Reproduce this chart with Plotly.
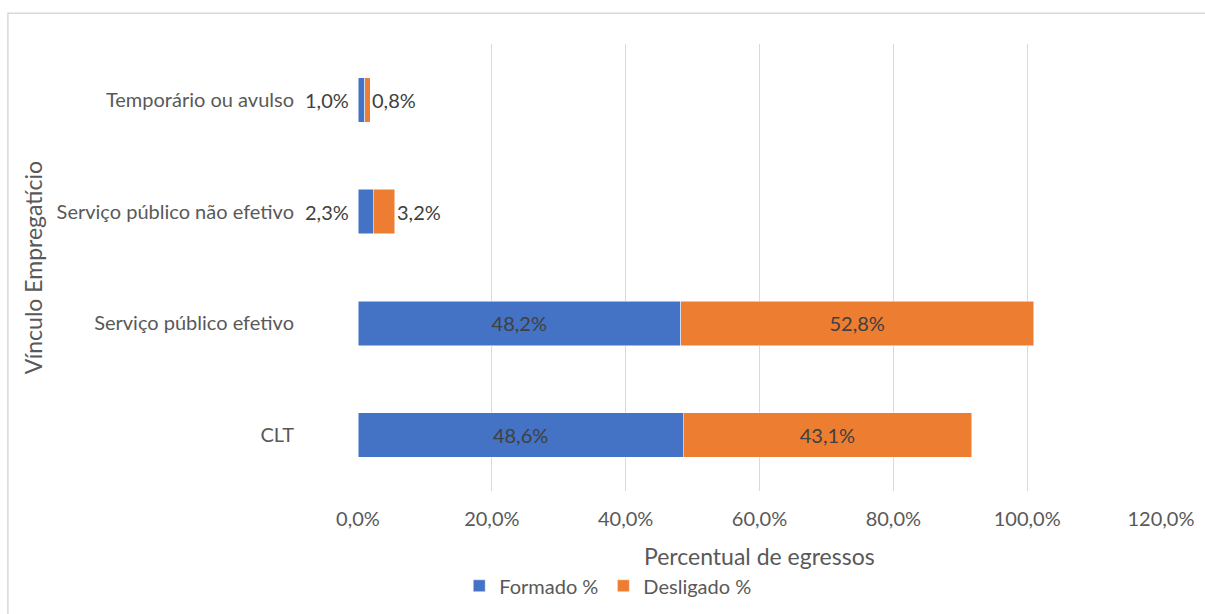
import plotly.graph_objects as go

# Employment relationship categories (bottom to top)
categorias = ["CLT", "Serviço público efetivo", "Serviço público não efetivo", "Temporário ou avulso"]
formado = [48.6, 48.2, 2.3, 1.0]
desligado = [43.1, 52.8, 3.2, 0.8]
x_ticks = [0, 20, 40, 60, 80, 100, 120]

AZUL = "#4472C4"
LARANJA = "#ED7D31"
TEXTO = "#595959"
ROTULO = "#404040"
FONTE = "Lato, 'Open Sans', sans-serif"
TAM = 20

def fmt(v):
    return f"{v:.1f}%".replace(".", ",")

# Values too small to hold a label inside the bar get their labels outside
LIMIAR = 10

fig = go.Figure()
fig.add_trace(go.Bar(
    y=categorias, x=formado, name="Formado %", orientation="h",
    marker=dict(color=AZUL, line=dict(color="white", width=0.5)),
    text=[fmt(v) if v >= LIMIAR else "" for v in formado],
    textposition="inside", insidetextanchor="middle",
    textfont=dict(color=ROTULO, size=TAM, family=FONTE),
))
fig.add_trace(go.Bar(
    y=categorias, x=desligado, name="Desligado %", orientation="h",
    marker=dict(color=LARANJA, line=dict(color="white", width=0.5)),
    text=[fmt(v) if v >= LIMIAR else "" for v in desligado],
    textposition="inside", insidetextanchor="middle",
    textfont=dict(color=ROTULO, size=TAM, family=FONTE),
))

anots = []
for cat, f, d in zip(categorias, formado, desligado):
    if f < LIMIAR:
        anots.append(dict(x=0, y=cat, xref="x", yref="y", text=fmt(f), showarrow=False,
                          xanchor="right", xshift=-7, font=dict(color=ROTULO, size=TAM, family=FONTE)))
    if d < LIMIAR:
        anots.append(dict(x=f + d, y=cat, xref="x", yref="y", text=fmt(d), showarrow=False,
                          xanchor="left", xshift=0, font=dict(color=ROTULO, size=TAM, family=FONTE)))

# Axis titles
anots.append(dict(x=0.5, y=-0.145, xref="paper", yref="paper", text="Percentual de egressos",
                  showarrow=False, xanchor="center", yanchor="middle",
                  font=dict(color=TEXTO, size=23, family=FONTE)))
anots.append(dict(x=-0.405, y=0.5, xref="paper", yref="paper", text="Vínculo Empregatício",
                  showarrow=False, textangle=-90, xanchor="center", yanchor="middle",
                  font=dict(color=TEXTO, size=23, family=FONTE)))

fig.update_layout(
    width=1205, height=614,
    barmode="stack", bargap=0.6,
    plot_bgcolor="white", paper_bgcolor="white",
    margin=dict(l=358, r=44, t=44, b=123, autoexpand=False),
    font=dict(family=FONTE, color=TEXTO, size=TAM),
    showlegend=True,
    legend=dict(orientation="h", x=0.311, y=-0.212, xanchor="center", yanchor="middle",
                font=dict(size=TAM, color=TEXTO, family=FONTE), traceorder="normal",
                itemwidth=30),
    annotations=anots,
    shapes=[dict(type="rect", xref="paper", yref="paper",
                 x0=-0.436, x1=1.2, y0=-0.4, y1=1.069,
                 line=dict(color="#D9D9D9", width=1.5), fillcolor="rgba(0,0,0,0)", layer="below")],
)
fig.update_xaxes(
    range=[0, 120], tickvals=x_ticks, ticktext=[fmt(v) for v in x_ticks],
    showgrid=True, gridcolor="#D9D9D9", gridwidth=1, zeroline=False, showline=False,
    tickfont=dict(size=TAM, color=TEXTO, family=FONTE), ticks="", ticklabelstandoff=14,
    automargin=False,
)
fig.update_yaxes(
    showgrid=False, showline=False, zeroline=False, ticks="",
    tickfont=dict(size=TAM, color=TEXTO, family=FONTE), ticklabelstandoff=63,
    automargin=False,
)

fig.write_html("out.html")
